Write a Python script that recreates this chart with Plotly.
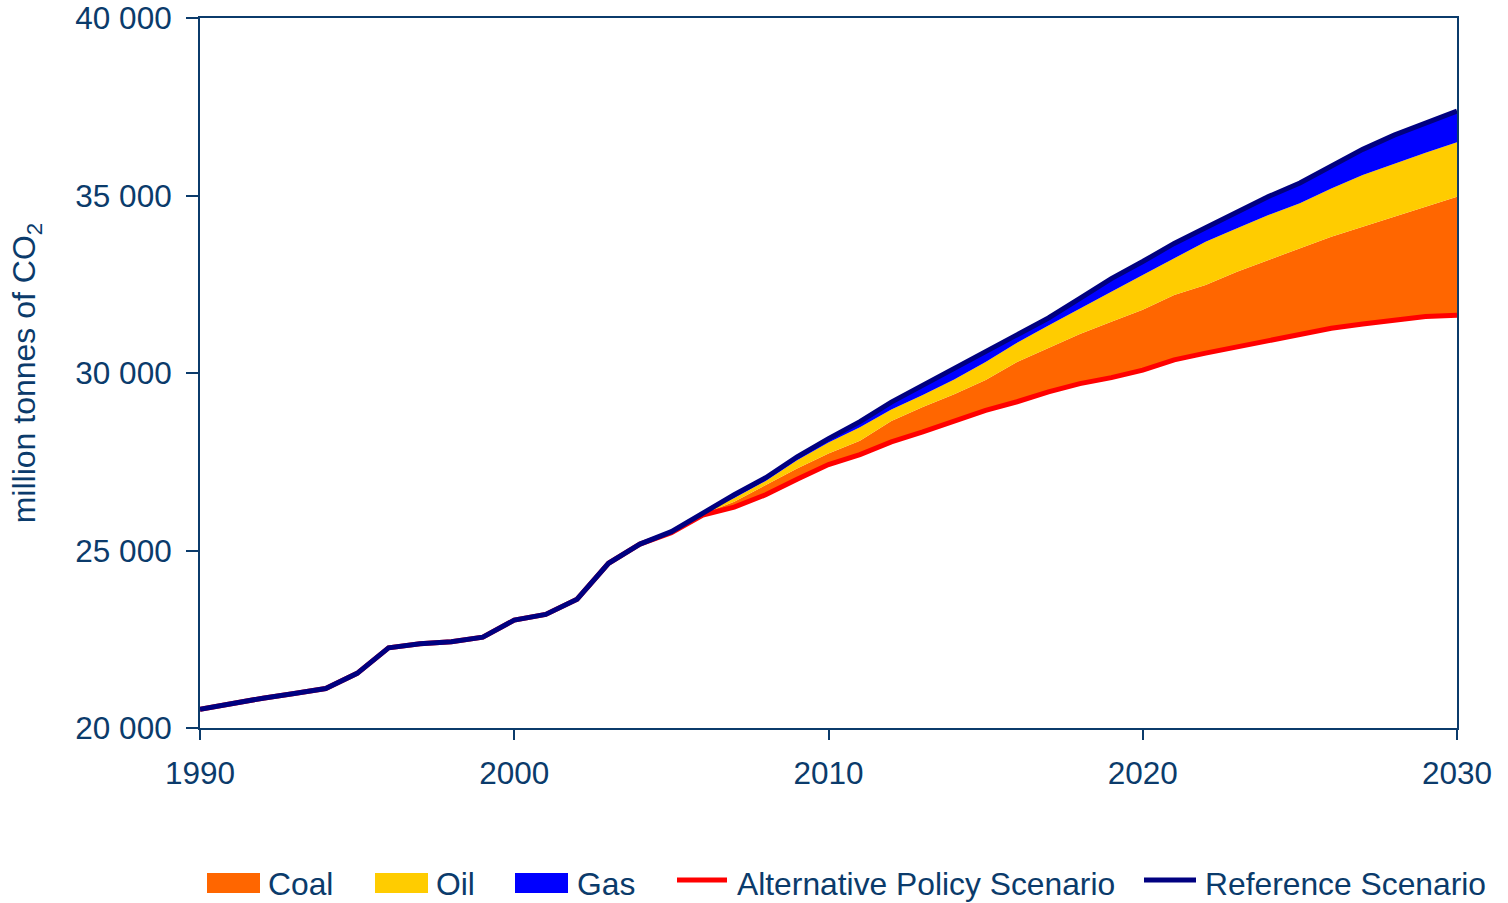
import plotly.graph_objects as go

# ---------------- data ----------------
years = list(range(1990, 2031))

# Reference Scenario (million tonnes CO2)
reference = [20530, 20690, 20840, 20970, 21110, 21540, 22260, 22370, 22430, 22560,
             23040, 23200, 23630, 24640, 25180, 25530, 26070, 26570, 27050, 27640,
             28150, 28630, 29180, 29650, 30120, 30600, 31070, 31550, 32100, 32660,
             33140, 33650, 34090, 34545, 34970, 35350, 35810, 36300, 36700, 37050,
             37380]

# Alternative Policy Scenario
alternative = [20530, 20690, 20840, 20970, 21110, 21540, 22260, 22370, 22430, 22560,
               23040, 23200, 23630, 24640, 25180, 25500, 26000, 26220, 26570, 27010,
               27420, 27700, 28060, 28340, 28660, 28950, 29190, 29470, 29700, 29870,
               30080, 30370, 30560, 30740, 30910, 31100, 31260, 31380, 31490, 31590,
               31630]

# Savings by fuel, 2005-2030
saving_years = list(range(2005, 2031))
coal = [30, 30, 150, 260, 300, 310, 390, 590, 700, 740, 850, 1120, 1225, 1400, 1575,
        1700, 1830, 1920, 2115, 2270, 2410, 2580, 2740, 2910, 3095, 3335]
oil = [0, 20, 110, 130, 230, 310, 380, 320, 340, 420, 510, 540, 640, 720, 845,
       980, 1030, 1220, 1220, 1270, 1270, 1360, 1460, 1500, 1520, 1535]
gas = [0, 20, 90, 90, 100, 110, 160, 210, 270, 300, 290, 220, 215, 280, 370,
       380, 420, 390, 470, 520, 570, 610, 720, 800, 845, 880]

y_ticks = [20000, 25000, 30000, 35000, 40000]
x_ticks = [1990, 2000, 2010, 2020, 2030]

# ---------------- styles ----------------
TXT = "#0B3B6B"
FONT = "Liberation Sans, Arial, sans-serif"
C_COAL, C_OIL, C_GAS = "#FF6600", "#FFCC00", "#0000FF"
C_ALT, C_REF = "#FF0000", "#000080"

start = years.index(saving_years[0])
base = alternative[start:]
top_coal = [b + c for b, c in zip(base, coal)]
top_oil = [t + o for t, o in zip(top_coal, oil)]
top_gas = [t + g for t, g in zip(top_oil, gas)]

fig = go.Figure()
fig.add_trace(go.Scatter(x=saving_years, y=base, mode="lines", line=dict(width=0),
                         showlegend=False, hoverinfo="skip"))
fig.add_trace(go.Scatter(x=saving_years, y=top_coal, mode="lines", line=dict(width=0),
                         fill="tonexty", fillcolor=C_COAL, name="Coal", showlegend=False))
fig.add_trace(go.Scatter(x=saving_years, y=top_oil, mode="lines", line=dict(width=0),
                         fill="tonexty", fillcolor=C_OIL, name="Oil", showlegend=False))
fig.add_trace(go.Scatter(x=saving_years, y=top_gas, mode="lines", line=dict(width=0),
                         fill="tonexty", fillcolor=C_GAS, name="Gas", showlegend=False))
fig.add_trace(go.Scatter(x=years, y=alternative, mode="lines",
                         line=dict(color=C_ALT, width=5), name="Alternative Policy Scenario",
                         showlegend=False))
fig.add_trace(go.Scatter(x=years, y=reference, mode="lines",
                         line=dict(color=C_REF, width=5), name="Reference Scenario",
                         showlegend=False))

# ---------------- layout geometry (page pixels) ----------------
FIG_W, FIG_H = 1508, 903
L, R, T, B = 200, 1457, 18, 728   # plot area
W, H = R - L, B - T


def px(x):
    return (x - L) / W


def py(y):
    return (B - y) / H


shapes = []
annotations = []
legend_items = [
    ("Coal", "rect", C_COAL, 207, 260, 268),
    ("Oil", "rect", C_OIL, 375, 428, 436),
    ("Gas", "rect", C_GAS, 515, 568, 577),
    ("Alternative Policy Scenario", "line", C_ALT, 677, 727, 737),
    ("Reference Scenario", "line", C_REF, 1144, 1196, 1205),
]
for label, kind, col, x0, x1, tx in legend_items:
    if kind == "rect":
        shapes.append(dict(type="rect", xref="paper", yref="paper",
                           x0=px(x0), x1=px(x1), y0=py(893), y1=py(873),
                           fillcolor=col, line=dict(width=0)))
    else:
        shapes.append(dict(type="line", xref="paper", yref="paper",
                           x0=px(x0), x1=px(x1), y0=py(880), y1=py(880),
                           line=dict(color=col, width=5)))
    annotations.append(dict(text=label, xref="paper", yref="paper",
                            x=px(tx - 2), y=py(884), xanchor="left", yanchor="middle",
                            showarrow=False, font=dict(size=31.8, color=TXT, family=FONT)))

fig.update_layout(
    width=FIG_W, height=FIG_H, autosize=False,
    margin=dict(l=L, r=FIG_W - R, t=T, b=FIG_H - B, pad=0),
    paper_bgcolor="white", plot_bgcolor="white",
    separators=". ",
    font=dict(family=FONT, size=31, color=TXT),
    showlegend=False,
    shapes=shapes,
    annotations=annotations,
    xaxis=dict(range=[1990, 2030], tickvals=x_ticks, tickformat="d",
               showgrid=False, zeroline=False, automargin=False,
               ticklabeloverflow="allow",
               showline=True, linecolor=TXT, linewidth=2, mirror=True,
               ticks="outside", ticklen=10, tickwidth=2, tickcolor=TXT,
               tickfont=dict(size=31.5, color=TXT), ticklabelstandoff=6),
    yaxis=dict(range=[20000, 40000], tickvals=y_ticks, tickformat=",d",
               showgrid=False, zeroline=False, automargin=False,
               ticklabeloverflow="allow",
               showline=True, linecolor=TXT, linewidth=2, mirror=True,
               ticks="outside", ticklen=12, tickwidth=2, tickcolor=TXT,
               tickfont=dict(size=31.5, color=TXT), ticklabelstandoff=8,
               title=dict(text="million tonnes of CO<sub>2</sub>",
                          font=dict(size=32, color=TXT), standoff=30)),
)

fig.write_html(
    "out.html",
    config={"displayModeBar": False},
    post_script="document.body.style.margin='0';document.body.style.overflow='hidden';",
)
